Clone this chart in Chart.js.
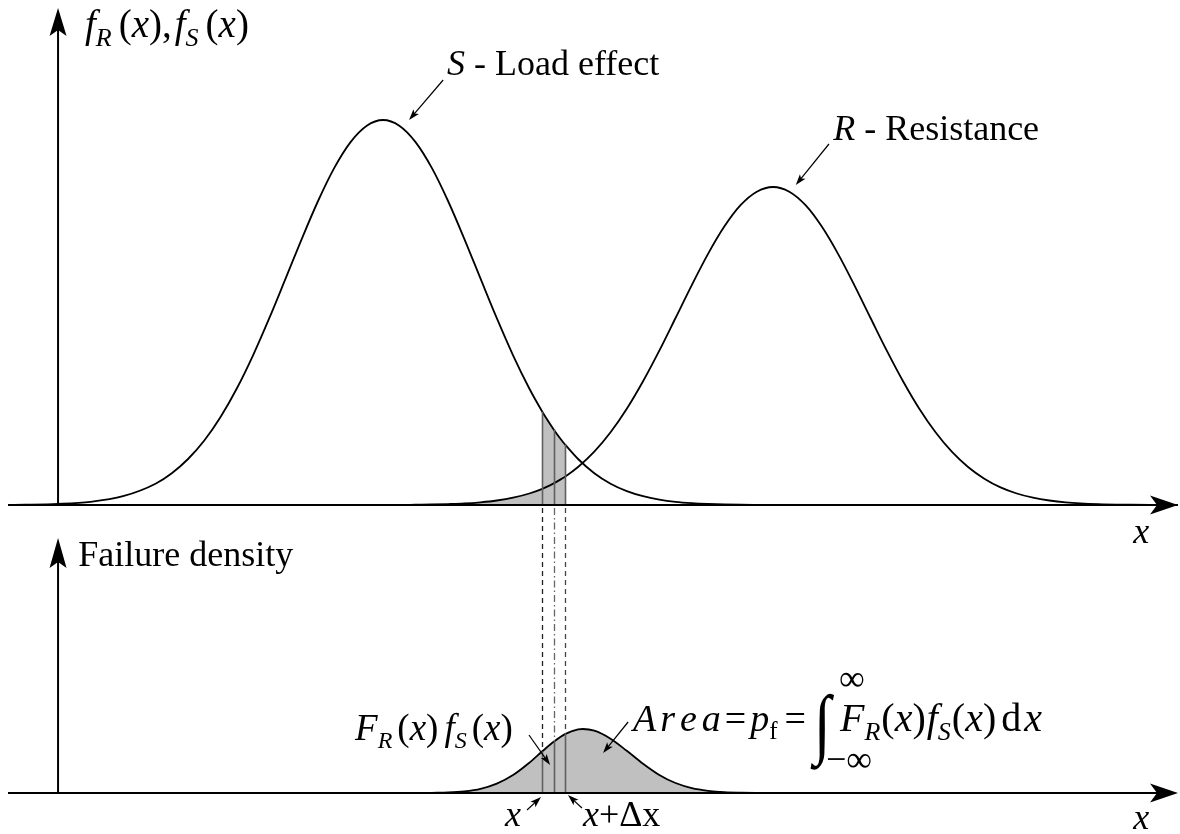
<!DOCTYPE html>
<html>
<head>
<meta charset="utf-8">
<script src="https://cdn.jsdelivr.net/npm/chart.js@4.4.1/dist/chart.umd.min.js"></script>
<style>
  html, body { margin: 0; padding: 0; background: #fff; }
  #wrap { position: relative; width: 1180px; height: 834px; }
</style>
</head>
<body>
<div id="wrap"><canvas id="c"></canvas></div>
<script>
// x positions shared by the load-effect and resistance densities
const xGrid = [-1.54, -1, 0, 1, 2, 3, 3.5, 4, 4.5, 5, 5.5, 6, 6.5, 7, 7.5, 8, 8.5, 9, 9.5, 10,
  10.5, 11, 11.5, 12, 12.5, 13, 13.5, 14, 14.5, 14.9, 15, 15.25, 15.5, 15.6, 16, 16.5, 17, 17.5,
  18, 18.5, 19, 19.5, 20, 20.5, 21, 21.5, 22, 22.5, 23, 23.5, 24, 24.5, 25, 25.5, 26, 26.5, 27,
  27.5, 28, 28.5, 29, 29.5, 30, 30.5, 31, 32, 33, 34, 34.46];

// f_S(x) : load effect
const loadEffect = [0.0001, 0.0003, 0.0011, 0.0032, 0.0088, 0.0213, 0.0318, 0.046, 0.0645, 0.088,
  0.1165, 0.1497, 0.1868, 0.2263, 0.2662, 0.304, 0.3371, 0.3629, 0.3793, 0.385,
  0.3793, 0.3629, 0.3371, 0.304, 0.2662, 0.2263, 0.1868, 0.1497, 0.1165, 0.0933, 0.088, 0.0756,
  0.0645, 0.0605, 0.046, 0.0318, 0.0213, 0.0139,
  0.0088, 0.0054, 0.0032, 0.0019, 0.0011, 0.0006, 0.0003, 0.0002, 0.0001, 0, 0, 0, 0, 0, 0, 0, 0, 0, 0,
  0, 0, 0, 0, 0, 0, 0, 0, 0, 0, 0, 0];

// f_R(x) : resistance
const resistance = [0, 0, 0, 0, 0, 0, 0, 0, 0, 0, 0, 0, 0, 0, 0, 0, 0, 0, 0, 0.0001,
  0.0001, 0.0003, 0.0005, 0.0009, 0.0015, 0.0027, 0.0045, 0.0073, 0.0115, 0.0162, 0.0176, 0.0216,
  0.0263, 0.0283, 0.038, 0.0533, 0.0727, 0.0962,
  0.1237, 0.1543, 0.187, 0.2199, 0.2511, 0.2784, 0.2998, 0.3133, 0.318, 0.3133, 0.2998, 0.2784,
  0.2511, 0.2199, 0.187, 0.1543, 0.1237, 0.0962, 0.0727,
  0.0533, 0.038, 0.0263, 0.0176, 0.0115, 0.0073, 0.0045, 0.0027, 0.0009, 0.0003, 0.0001, 0];

// F_R(x) f_S(x) : failure density
const xFail = [11.5, 12, 12.5, 13, 13.5, 14, 14.5, 14.9, 15.25, 15.6, 16, 16.15, 16.5, 17, 17.5,
  18, 18.5, 19, 19.5, 20, 20.5, 21, 21.5, 22];
const failureDensity = [0.0002, 0.0006, 0.0017, 0.0042, 0.0094, 0.018, 0.0303, 0.0417, 0.0512,
  0.0589, 0.0636, 0.064, 0.0623, 0.0543, 0.0422, 0.0293, 0.0181, 0.01, 0.0049, 0.0022, 0.0008,
  0.0003, 0.0001, 0];

// strip edges: x, x + Δx/2, x + Δx
const stripX = [14.9, 15.25, 15.6];

const pts = (xs, ys) => xs.map((x, i) => ({ x, y: ys[i] }));
const GREY = '#c0c0c0';
const SERIF = '"Liberation Serif", "Times New Roman", serif';

const rFill = pts(xGrid, resistance).filter(p => p.x <= stripX[0]);
const sStrip = pts(xGrid, loadEffect).filter(p => p.x >= stripX[0] && p.x <= stripX[2]);

function seg(ctx, x1, y1, x2, y2) {
  ctx.beginPath(); ctx.moveTo(x1, y1); ctx.lineTo(x2, y2); ctx.stroke();
}
// arrowhead with a notched back, pointing along (dx, dy)
function head(ctx, tx, ty, dx, dy, len, half, notch) {
  const n = Math.hypot(dx, dy); dx /= n; dy /= n;
  const bx = tx - dx * len, by = ty - dy * len;
  ctx.beginPath();
  ctx.moveTo(tx, ty);
  ctx.lineTo(bx - dy * half, by + dx * half);
  ctx.lineTo(bx + dx * notch, by + dy * notch);
  ctx.lineTo(bx + dy * half, by - dx * half);
  ctx.closePath(); ctx.fill();
}
function pointer(ctx, x1, y1, x2, y2) {
  ctx.lineWidth = 1.2; ctx.setLineDash([]);
  const dx = x2 - x1, dy = y2 - y1, n = Math.hypot(dx, dy);
  seg(ctx, x1, y1, x2 - dx / n * 6, y2 - dy / n * 6);
  head(ctx, x2, y2, dx, dy, 11, 3.6, 2.5);
}
// text runs with mixed styles on one baseline
function runs(ctx, x, y, parts, size = 36) {
  for (const p of parts) {
    if (p.gap) { x += p.gap; continue; }
    const s = p.sub ? Math.round(size * 0.66) : size;
    ctx.font = `${p.i ? 'italic ' : ''}${s}px ${SERIF}`;
    ctx.fillText(p.t, x, y + (p.sub ? size * 0.22 : 0));
    x += ctx.measureText(p.t).width + (p.sp || 0);
  }
  return x;
}
const sub = (t, italic = true) => ({ t, i: italic, sub: true });

const overlay = {
  id: 'overlay',
  afterDatasetsDraw(chart) {
    const { ctx, chartArea: ca, scales } = chart;
    const X = scales.x, YT = scales.y, YB = scales.y2;
    const px = u => X.getPixelForValue(u);
    const top0 = YT.getPixelForValue(0), bot0 = YB.getPixelForValue(0);
    ctx.save();
    ctx.lineCap = 'butt';

    // strip edges and the dashed links between the two panels
    const dashes = [[5, 4], [7, 3, 1.5, 3], [5, 4]];
    const dashCol = ['#222', '#666', '#444'];
    stripX.forEach((u, k) => {
      const xp = Math.round(px(u)) + 0.5;
      const sTop = YT.getPixelForValue(loadEffect[xGrid.indexOf(u)]);
      const fTop = YB.getPixelForValue(failureDensity[xFail.indexOf(u)]);
      ctx.setLineDash([]); ctx.strokeStyle = '#5f5f5f'; ctx.lineWidth = 1.6;
      seg(ctx, xp, top0, xp, sTop);
      seg(ctx, xp, bot0, xp, fTop);
      ctx.setLineDash(dashes[k]); ctx.strokeStyle = dashCol[k]; ctx.lineWidth = 1.3;
      seg(ctx, xp, top0 + 3, xp, fTop);
    });

    // axes
    ctx.setLineDash([]); ctx.strokeStyle = '#000'; ctx.fillStyle = '#000'; ctx.lineWidth = 2;
    const x0 = px(0);
    const topTip = YT.getPixelForValue(0.497), botTip = YB.getPixelForValue(0.255);
    [top0, bot0].forEach(yy => {
      seg(ctx, ca.left, yy, ca.right - 12, yy);
      head(ctx, ca.right, yy, 1, 0, 28, 9.5, 7);
    });
    seg(ctx, x0, top0, x0, topTip + 12);
    head(ctx, x0, topTip, 0, -1, 28, 8.5, 6);
    seg(ctx, x0, bot0, x0, botTip + 12);
    head(ctx, x0, botTip, 0, -1, 30, 8.5, 6);

    // pointers
    const P = (u, v, sc) => [px(u), sc.getPixelForValue(v)];
    [[P(11.85, 0.425, YT), P(10.8, 0.385, YT)],
     [P(23.72, 0.361, YT), P(22.7, 0.320, YT)],
     [P(14.49, 0.058, YB), P(15.14, 0.028, YB)],
     [P(17.54, 0.071, YB), P(16.77, 0.040, YB)],
     [P(14.43, -0.017, YB), P(14.86, -0.004, YB)],
     [P(16.12, -0.015, YB), P(15.69, -0.002, YB)]
    ].forEach(([a, b]) => pointer(ctx, a[0], a[1], b[0], b[1]));

    // labels
    ctx.textBaseline = 'alphabetic'; ctx.fillStyle = '#000';
    let p = P(0.83, 0.468, YT);
    runs(ctx, p[0], p[1], [{ t: 'f', i: 1 }, sub('R'), { gap: 7 }, { t: '(' }, { t: 'x', i: 1 }, { t: '),' },
      { gap: 3 }, { t: 'f', i: 1 }, sub('S'), { gap: 7 }, { t: '(' }, { t: 'x', i: 1 }, { t: ')' }], 39);
    p = P(11.97, 0.430, YT);
    runs(ctx, p[0], p[1], [{ t: 'S', i: 1 }, { t: ' - Load effect' }]);
    p = P(23.85, 0.365, YT);
    runs(ctx, p[0], p[1], [{ t: 'R', i: 1 }, { t: ' - Resistance' }]);
    p = P(33.08, -0.038, YT);
    runs(ctx, p[0], p[1], [{ t: 'x', i: 1 }]);
    p = P(0.62, 0.227, YB);
    runs(ctx, p[0], p[1], [{ t: 'Failure density' }]);
    p = P(9.14, 0.053, YB);
    runs(ctx, p[0], p[1], [{ t: 'F', i: 1 }, sub('R'), { gap: 5 }, { t: '(' }, { t: 'x', i: 1 }, { t: ')' },
      { gap: 6 }, { t: 'f', i: 1 }, sub('S'), { gap: 5 }, { t: '(' }, { t: 'x', i: 1 }, { t: ')' }], 37);
    p = P(13.75, -0.033, YB);
    runs(ctx, p[0], p[1], [{ t: 'x', i: 1 }]);
    p = P(16.15, -0.033, YB);
    runs(ctx, p[0], p[1], [{ t: 'x', i: 1 }, { t: '+Δx' }]);
    p = P(33.08, -0.036, YB);
    runs(ctx, p[0], p[1], [{ t: 'x', i: 1 }]);

    // probability of failure as an integral
    p = P(17.69, 0.062, YB);
    let cx = runs(ctx, p[0], p[1], [{ t: 'A', i: 1, sp: 4 }, { t: 'r', i: 1, sp: 5 }, { t: 'e', i: 1, sp: 5 },
      { t: 'a', i: 1 }, { gap: 4 }, { t: '=' }, { gap: 4 }, { t: 'p', i: 1 }, sub('f', false), { gap: 7 },
      { t: '=' }, { gap: 8 }], 38);
    // tall, thin integral sign
    ctx.save();
    ctx.translate(cx, p[1] + 18);
    ctx.scale(1, 1.25);
    ctx.font = `62px ${SERIF}`;
    ctx.fillText('∫', 0, 0);
    ctx.restore();
    ctx.font = `36px ${SERIF}`;
    ctx.fillText('∞', cx + 25, p[1] - 41);
    ctx.fillText('−∞', cx + 12, p[1] + 40);
    runs(ctx, cx + 26, p[1], [{ t: 'F', i: 1 }, sub('R'), { gap: 1 }, { t: '(' }, { t: 'x', i: 1 }, { t: ')' },
      { gap: 1 }, { t: 'f', i: 1 }, sub('S'), { gap: 1 }, { t: '(' }, { t: 'x', i: 1 }, { t: ')' }, { gap: 5 },
      { t: 'd' }, { gap: 3 }, { t: 'x', i: 1 }], 40);
    ctx.restore();
  }
};

const curve = (data, axis) => ({
  data, yAxisID: axis, borderColor: '#000', borderWidth: 1.8, pointRadius: 0,
  fill: false, cubicInterpolationMode: 'monotone'
});
const area = (data, axis) => ({
  data, yAxisID: axis, borderWidth: 0, borderColor: 'rgba(0,0,0,0)', backgroundColor: GREY,
  pointRadius: 0, fill: 'origin', cubicInterpolationMode: 'monotone'
});

new Chart(document.getElementById('c'), {
  type: 'line',
  data: {
    datasets: [
      Object.assign(curve(pts(xGrid, loadEffect), 'y'), { label: 'S - Load effect' }),
      Object.assign(curve(pts(xGrid, resistance), 'y'), { label: 'R - Resistance' }),
      Object.assign(curve(pts(xFail, failureDensity), 'y2'),
        { label: 'Failure density', fill: 'origin', backgroundColor: GREY }),
      Object.assign(area(rFill, 'y'), { label: 'F_R(x)' }),
      Object.assign(area(sStrip, 'y'), { label: 'f_S(x) dx' })
    ]
  },
  options: {
    responsive: true,
    maintainAspectRatio: false,
    animation: false,
    devicePixelRatio: 1,
    events: [],
    layout: { padding: { left: 8, right: 2, top: 0, bottom: 0 } },
    plugins: { legend: { display: false }, tooltip: { enabled: false } },
    scales: {
      x: { type: 'linear', min: -1.54, max: 34.46, display: false },
      // upper panel (placed first in the stack because of its larger weight)
      y: { type: 'linear', min: -0.015, max: 0.505, display: false, stack: 'panels', stackWeight: 520, weight: 1 },
      // lower panel
      y2: { type: 'linear', min: -0.041, max: 0.273, display: false, stack: 'panels', stackWeight: 314, weight: 0 }
    }
  },
  plugins: [overlay]
});
</script>
</body>
</html>
